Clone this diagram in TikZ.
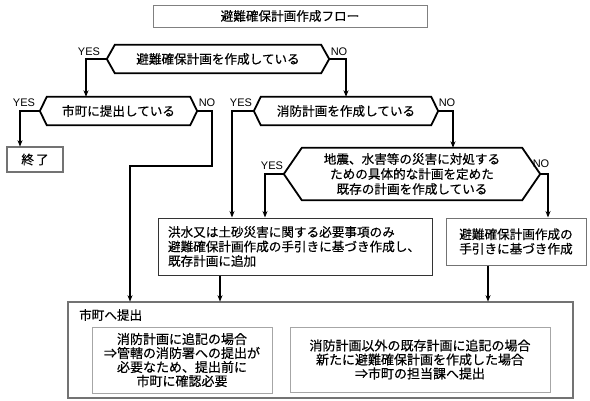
\documentclass[tikz,border=0pt]{standalone}
\usepackage{fontspec}
\setmainfont{Liberation Sans}
\newfontfamily\jp[FakeBold=0.4]{Noto Sans CJK JP}
\usetikzlibrary{arrows.meta,calc}
\newcommand\hexpath[2]{\draw[hexline] (#1.north west) -- (#1.north east) -- ([xshift=#2bp]#1.east) -- (#1.south east) -- (#1.south west) -- ([xshift=-#2bp]#1.west) -- cycle;
  \coordinate (#1l) at ([xshift=-#2bp]#1.west);
  \coordinate (#1r) at ([xshift=#2bp]#1.east);}
\begin{document}
\begin{tikzpicture}[x=1bp,y=-1bp,
  every node/.style={inner sep=0pt, font=\jp\fontsize{12.6bp}{14.5bp}\selectfont},
  hexline/.style={draw=black,line width=1.8bp,line join=miter},
  arr/.style={line width=1.3bp,-{Stealth[length=6.5bp,width=5bp]}},
  lbl/.style={font=\fontsize{11bp}{12bp}\selectfont},
  dbl/.style={draw=black!85, line width=0.7bp, double=black!55, double distance=1.3bp},
  small/.style={font=\jp\fontsize{13bp}{14bp}\selectfont}
]
\fill[white] (0,0) rectangle (590,400);
\useasboundingbox (0,0) rectangle (590,400);

% title
\node[draw=black!50, line width=0.8bp, minimum width=274bp, minimum height=22bp] (title) at (290,16) {避難確保計画作成フロー};

% hexagons
\node[minimum width=206bp,minimum height=28bp] (h1) at (218,59) {避難確保計画を作成している};
\hexpath{h1}{8}
\node[minimum width=143bp,minimum height=28bp] (h2) at (118.5,111) {市町に提出している};
\hexpath{h2}{7}
\node[minimum width=170bp,minimum height=28bp] (h3) at (346,111) {消防計画を作成している};
\hexpath{h3}{7}
\node[minimum width=220bp,minimum height=52bp,align=center,font=\jp\fontsize{12.6bp}{15bp}\selectfont] (h4) at (412,174) {地震、水害等の災害に対処する\\ための具体的な計画を定めた\\既存の計画を作成している};
\hexpath{h4}{18}

% labels
\node[lbl] (y1) at (89,52) {YES};
\node[lbl] (n1) at (339,52) {NO};
\node[lbl] (y2) at (24,103) {YES};
\node[lbl] (n2) at (207,103) {NO};
\node[lbl] (y3) at (241,103) {YES};
\node[lbl] (n3) at (447,103) {NO};
\node[lbl] (y4) at (272,166) {YES};
\node[lbl] (n4) at (541,164) {NO};

% end box
\node[dbl, minimum width=56bp, minimum height=25bp] (end) at (35,159.5) {終\,了};

% boxes
\node[draw=black!80, line width=1bp, minimum width=274bp, minimum height=57bp, text width=254bp, align=left, inner xsep=10bp] (b1) at (295,246.5) {洪水又は土砂災害に関する必要事項のみ\\避難確保計画作成の手引きに基づき作成し、\\既存計画に追加};
\node[draw=black!55, line width=1bp, minimum width=140bp, minimum height=47bp, align=center] (b2) at (516,241.5) {避難確保計画作成の\\手引きに基づき作成};

% big box
\node[dbl, minimum width=505bp, minimum height=96bp] (big) at (320.5,350) {};
\node[anchor=west] (bt) at (79,315) {市町へ提出};
\node[draw=black!35, line width=0.8bp, minimum width=180bp, minimum height=66bp, align=center, small] (i1) at (182,360) {消防計画に追記の場合\\⇒管轄の消防署への提出が\\必要なため、提出前に\\市町に確認必要};
\node[draw=black!35, line width=0.8bp, minimum width=260bp, minimum height=65bp, align=center, small] (i2) at (420,359.5) {消防計画以外の既存計画に追記の場合\\新たに避難確保計画を作成した場合\\⇒市町の担当課へ提出};

% connectors
\coordinate (k1) at (86,59);
\draw[arr] (h1l) -- (k1) -- (k1 |- h2.north);
\coordinate (k2) at (346,59);
\draw[arr] (h1r) -- (k2) -- (k2 |- h3.north);
\coordinate (k3) at (20,111);
\draw[arr] (h2l) -- (k3) -- (k3 |- end.north);
\coordinate (k4) at (212,111);
\coordinate (k5) at (212,166);
\coordinate (k6) at (130,166);
\draw[arr] (h2r) -- (k4) -- (k5) -- (k6) -- (k6 |- big.north);
\coordinate (k7) at (232,111);
\draw[arr] (h3l) -- (k7) -- (k7 |- b1.north);
\coordinate (k8) at (453,111);
\draw[arr] (h3r) -- (k8) -- (k8 |- h4.north);
\coordinate (k9) at (265,174);
\draw[arr] (h4l) -- (k9) -- (k9 |- b1.north);
\coordinate (k10) at (548,174);
\draw[arr] (h4r) -- (k10) -- (k10 |- b2.north);
\coordinate (k11) at (220,0);
\draw[arr] (b1.south -| k11) -- (big.north -| k11);
\coordinate (k12) at (488,0);
\draw[arr] (b2.south -| k12) -- (big.north -| k12);
\end{tikzpicture}
\end{document}
